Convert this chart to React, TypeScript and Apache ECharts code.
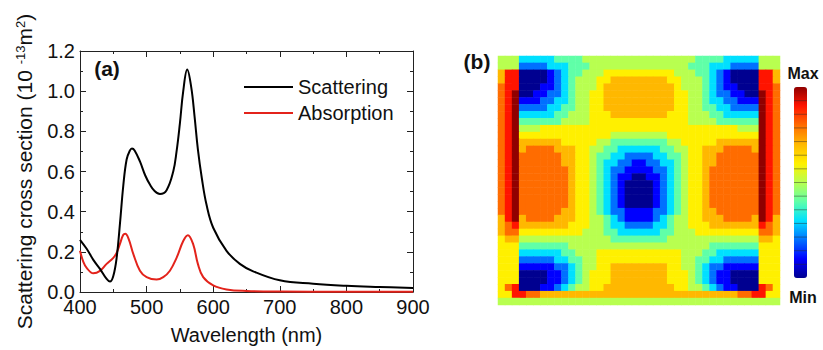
import React, { useEffect, useRef } from "react";
import * as echarts from "echarts";

// ---------- panel (a) data ----------
const scatWl = [400, 410, 420, 430, 440, 445, 450, 455, 460, 465, 470, 475, 478, 482, 490, 498, 505, 512, 520, 530, 540, 545, 550, 555, 561, 567, 572, 577, 583, 590, 600, 620, 640, 660, 700, 750, 800, 850, 900];
const scatVal = [0.26, 0.215, 0.16, 0.115, 0.065, 0.052, 0.08, 0.17, 0.34, 0.53, 0.66, 0.705, 0.715, 0.705, 0.65, 0.58, 0.535, 0.503, 0.488, 0.507, 0.6, 0.7, 0.84, 1.0, 1.108, 1.02, 0.875, 0.71, 0.565, 0.434, 0.32, 0.205, 0.14, 0.103, 0.058, 0.041, 0.031, 0.025, 0.02];

const absWl = [400, 405, 410, 420, 430, 440, 450, 455, 460, 465, 468, 473, 480, 490, 500, 515, 525, 535, 545, 555, 562, 570, 577, 585, 600, 620, 650, 700, 800, 900];
const absVal = [0.205, 0.15, 0.12, 0.093, 0.105, 0.14, 0.17, 0.195, 0.24, 0.285, 0.29, 0.265, 0.19, 0.106, 0.074, 0.062, 0.074, 0.106, 0.17, 0.254, 0.283, 0.237, 0.14, 0.074, 0.033, 0.013, 0.005, 0.002, 0.001, 0.001];

const xTicks = [400, 500, 600, 700, 800, 900];
const yTicks = ["0.0", "0.2", "0.4", "0.6", "0.8", "1.0", "1.2"];

// ---------- panel (b) data: field intensity levels (0 = min ... a = max), one string per row ----------
const fieldRows = [
  "55533333444455555555" + "55555555444433333555",
  "55522223334445555555" + "55555554443332222555",
  "79900001234455566666" + "66666555443210000997",
  "79900001234555667777" + "77776655543210000997",
  "89900011234555677777" + "77777655543211000998",
  "89a00112234556677777" + "77777665543221100a98",
  "89a11122334556677777" + "77777665543322111a98",
  "89a22223344556677777" + "77777665544332222a98",
  "89a33333445556667777" + "77776665554433333a98",
  "89a44444455556666666" + "66666665555444444a98",
  "89a55566666666666666" + "66666666666666555a98",
  "89a66666666666665555" + "55556666666666666a98",
  "89a77777766666554444" + "44445566666777777a98",
  "89a78888777665544333" + "33344556677788887a98",
  "89a88888877665443322" + "22334456677888888a98",
  "89a88888877665433221" + "12233456677888888a98",
  "89a88888887665432211" + "11223456678888888a98",
  "89a88888887665432110" + "01123456678888888a98",
  "89a88888887665432100" + "00123456678888888a98",
  "89a88888887665432100" + "00123456678888888a98",
  "89a88888887665432100" + "00123456678888888a98",
  "89a88888887665432100" + "00123456678888888a98",
  "89a88888877665432211" + "11223456677888888a98",
  "79a78888777665543211" + "11234556677788887a97",
  "78977777776665543322" + "22334556667777777987",
  "78866666666655544333" + "33344555666666666887",
  "67755555555555554444" + "44445555555555555776",
  "66644444445555555555" + "55555555554444444666",
  "66633333344555666666" + "66666655544333333666",
  "66622222334455666666" + "66666655443322222666",
  "66611111223455667777" + "77776655432211111666",
  "66600001123456667777" + "77776665432110000666",
  "66600001123456667777" + "77776665432110000666",
  "68900011234556677777" + "77777665543211000986",
  "66998877777777777777" + "77777777777777889966",
  "55555555555555555555" + "55555555555555555555",
];

const palette = [
  "#000090", "#0000ff", "#0070ff", "#00e0ff", "#60ffa8",
  "#b8ff50", "#fff000", "#ffb800", "#ff6c00", "#ff1400", "#900000",
];

const FONT = '"Liberation Sans", Arial, Helvetica, sans-serif';

function buildOption() {
  const nCols = fieldRows[0].length;
  const nRows = fieldRows.length;
  const colIdx = Array.from({ length: nCols }, (_, i) => String(i));
  const rowIdx = Array.from({ length: nRows }, (_, i) => String(i));
  const heat: number[][] = [];
  fieldRows.forEach((row, r) => {
    for (let c = 0; c < row.length; c++) {
      heat.push([c, r, parseInt(row[c], 16)]);
    }
  });

  const axisColor = "#222";
  const boxAxis = (extra: any) => ({
    gridIndex: 0,
    axisLine: { show: true, onZero: false, lineStyle: { color: axisColor, width: 1 } },
    axisTick: { show: true, inside: true, length: 6, lineStyle: { color: axisColor } },
    minorTick: { show: true, splitNumber: 2, length: 3, lineStyle: { color: axisColor } },
    splitLine: { show: false },
    ...extra,
  });

  const sepLines = [];
  for (let k = 1; k < 14; k++) {
    const y = 87 + (k * 191) / 14;
    sepLines.push({
      type: "line",
      shape: { x1: 794, y1: y, x2: 807, y2: y },
      style: { stroke: "rgba(40,40,40,0.45)", lineWidth: 1 },
      z: 100,
    });
  }

  return {
    animation: false,
    backgroundColor: "#ffffff",
    textStyle: { fontFamily: FONT },
    grid: [
      { left: 80, top: 51, width: 333, height: 244 },
      { left: 498, top: 56, width: 282, height: 249 },
    ],
    xAxis: [
      boxAxis({
        type: "value",
        min: xTicks[0],
        max: xTicks[xTicks.length - 1],
        interval: 100,
        name: "Wavelength (nm)",
        nameLocation: "middle",
        nameGap: 33,
        nameTextStyle: { fontSize: 20, color: "#111", fontFamily: FONT },
        axisLabel: { fontSize: 20, color: "#111", margin: 5, fontFamily: FONT },
      }),
      boxAxis({
        type: "value",
        position: "top",
        min: xTicks[0],
        max: xTicks[xTicks.length - 1],
        interval: 100,
        axisLabel: { show: false },
      }),
      { type: "category", gridIndex: 1, data: colIdx, show: false },
    ],
    yAxis: [
      boxAxis({
        type: "value",
        min: 0,
        max: 1.2,
        interval: 0.2,
        name: "{a|Scattering cross section (10 }{s|-13}{a|m}{s|2}{a|)}",
        nameLocation: "middle",
        nameGap: 45,
        nameTextStyle: {
          color: "#111",
          rich: {
            a: { fontSize: 21, fontFamily: FONT, color: "#111" },
            s: { fontSize: 13, fontFamily: FONT, color: "#111", verticalAlign: "top" },
          },
        },
        axisLabel: {
          fontSize: 20,
          color: "#111",
          margin: 5,
          fontFamily: FONT,
          formatter: (v: number) => yTicks[Math.round(v / 0.2)] ?? v.toFixed(1),
        },
      }),
      boxAxis({
        type: "value",
        position: "right",
        min: 0,
        max: 1.2,
        interval: 0.2,
        axisLabel: { show: false },
      }),
      { type: "category", gridIndex: 1, data: rowIdx, inverse: true, show: false },
    ],
    legend: {
      data: ["Scattering", "Absorption"],
      orient: "vertical",
      left: 239,
      top: 72,
      icon: "rect",
      itemWidth: 49,
      itemHeight: 2,
      itemGap: 6,
      selectedMode: false,
      textStyle: { fontSize: 20, color: "#111", fontFamily: FONT },
    },
    visualMap: {
      type: "continuous",
      seriesIndex: 2,
      min: 0,
      max: 10,
      inRange: { color: palette },
      left: 794,
      top: 87,
      itemWidth: 13,
      itemHeight: 191,
      padding: 0,
      calculable: false,
      hoverLink: false,
      showLabel: false,
    },
    graphic: [
      {
        type: "text",
        x: 107,
        y: 68,
        style: { text: "(a)", font: `bold 21px ${FONT}`, fill: "#111", align: "center", verticalAlign: "middle" },
      },
      {
        type: "text",
        x: 477,
        y: 61,
        style: { text: "(b)", font: `bold 21px ${FONT}`, fill: "#111", align: "center", verticalAlign: "middle" },
      },
      {
        type: "text",
        x: 803,
        y: 73,
        style: { text: "Max", font: `bold 16px ${FONT}`, fill: "#111", align: "center", verticalAlign: "middle" },
      },
      {
        type: "text",
        x: 803,
        y: 297,
        style: { text: "Min", font: `bold 16px ${FONT}`, fill: "#111", align: "center", verticalAlign: "middle" },
      },
      ...sepLines,
    ],
    series: [
      {
        name: "Scattering",
        type: "line",
        xAxisIndex: 0,
        yAxisIndex: 0,
        data: scatWl.map((w, i) => [w, scatVal[i]]),
        symbol: "none",
        smooth: 0.4,
        color: "#000000",
        lineStyle: { color: "#000000", width: 2 },
        z: 3,
      },
      {
        name: "Absorption",
        type: "line",
        xAxisIndex: 0,
        yAxisIndex: 0,
        data: absWl.map((w, i) => [w, absVal[i]]),
        symbol: "none",
        smooth: 0.4,
        color: "#e3231b",
        lineStyle: { color: "#e3231b", width: 2 },
        z: 2,
      },
      {
        name: "field",
        type: "heatmap",
        xAxisIndex: 2,
        yAxisIndex: 2,
        data: heat,
        itemStyle: { borderWidth: 0 },
        emphasis: { disabled: true },
      },
    ],
  };
}

export default function App() {
  const ref = useRef<HTMLDivElement>(null);
  useEffect(() => {
    if (!ref.current) return;
    const chart = echarts.init(ref.current, undefined, { renderer: "svg" });
    chart.setOption(buildOption() as any);
    return () => chart.dispose();
  }, []);
  return (
    <div
      ref={ref}
      style={{ position: "absolute", left: 0, top: 0, width: 823, height: 350, background: "#fff" }}
    />
  );
}
